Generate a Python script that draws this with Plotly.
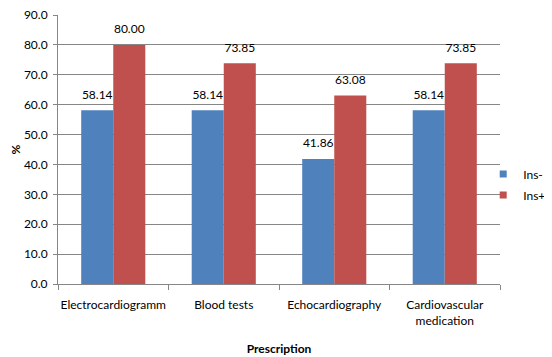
import plotly.graph_objects as go

categories = ["Electrocardiogramm", "Blood tests", "Echocardiography", "Cardiovascular<br>medication"]
ins_minus = [58.14, 58.14, 41.86, 58.14]
ins_plus = [80.00, 73.85, 63.08, 73.85]
y_ticks = [0, 10, 20, 30, 40, 50, 60, 70, 80, 90]

font = "Lato, Open Sans, Liberation Sans, Arial, sans-serif"
series = [("Ins-", ins_minus, "#4F81BD", "a"), ("Ins+", ins_plus, "#C0504D", "b")]

fig = go.Figure()
for name, vals, color, grp in series:
    fig.add_trace(go.Bar(x=categories, y=vals, name=name, legendgroup=grp, offsetgroup=grp,
                         showlegend=False, marker=dict(color=color, line=dict(width=0))))
for name, vals, color, grp in series:
    fig.add_trace(go.Scatter(x=categories, y=vals, mode="markers+text", showlegend=False,
                             offsetgroup=grp, legendgroup=grp, hoverinfo="skip",
                             marker=dict(size=12, opacity=0),
                             text=[f"{v:.2f}" for v in vals], textposition="top center",
                             cliponaxis=False, textfont=dict(size=12, color="#000")))
# legend entries with small square keys
for name, vals, color, grp in series:
    fig.add_trace(go.Scatter(x=[None], y=[None], mode="markers", name=name, legendgroup=grp,
                             offsetgroup=grp, showlegend=True,
                             marker=dict(symbol="square", size=7, color=color)))

fig.update_layout(
    width=544, height=349,
    margin=dict(l=50, r=52, t=7, b=73, autoexpand=False),
    paper_bgcolor="white", plot_bgcolor="white",
    font=dict(family=font, size=12, color="#000"),
    barmode="group", bargap=0.42, bargroupgap=0,
    scattermode="group", scattergap=0.42,
    showlegend=True,
    legend=dict(x=0.962, y=0.37, yanchor="middle", xanchor="left", font=dict(size=12),
                traceorder="grouped", tracegroupgap=2, bgcolor="rgba(0,0,0,0)",
                itemsizing="trace"),
    xaxis=dict(showline=True, linecolor="#868686", linewidth=1, ticks="outside", tickson="boundaries",
               ticklen=5, tickcolor="#868686", showgrid=False, tickangle=0, automargin=False,
               ticklabelstandoff=10,
               title=dict(text="<b>Prescription</b>", font=dict(size=12), standoff=17),
               tickfont=dict(size=12)),
    yaxis=dict(range=[0, 90], tickvals=y_ticks, tickformat=".1f", showline=True, linecolor="#868686",
               linewidth=1, ticks="outside", ticklen=4, tickcolor="#868686", automargin=False,
               ticklabelstandoff=3, ticklabeloverflow="allow",
               showgrid=True, gridcolor="#868686", gridwidth=1, zeroline=False,
               title=dict(text="<b>%</b>", font=dict(size=12), standoff=14),
               tickfont=dict(size=12)),
)

fig.write_html("out.html")
